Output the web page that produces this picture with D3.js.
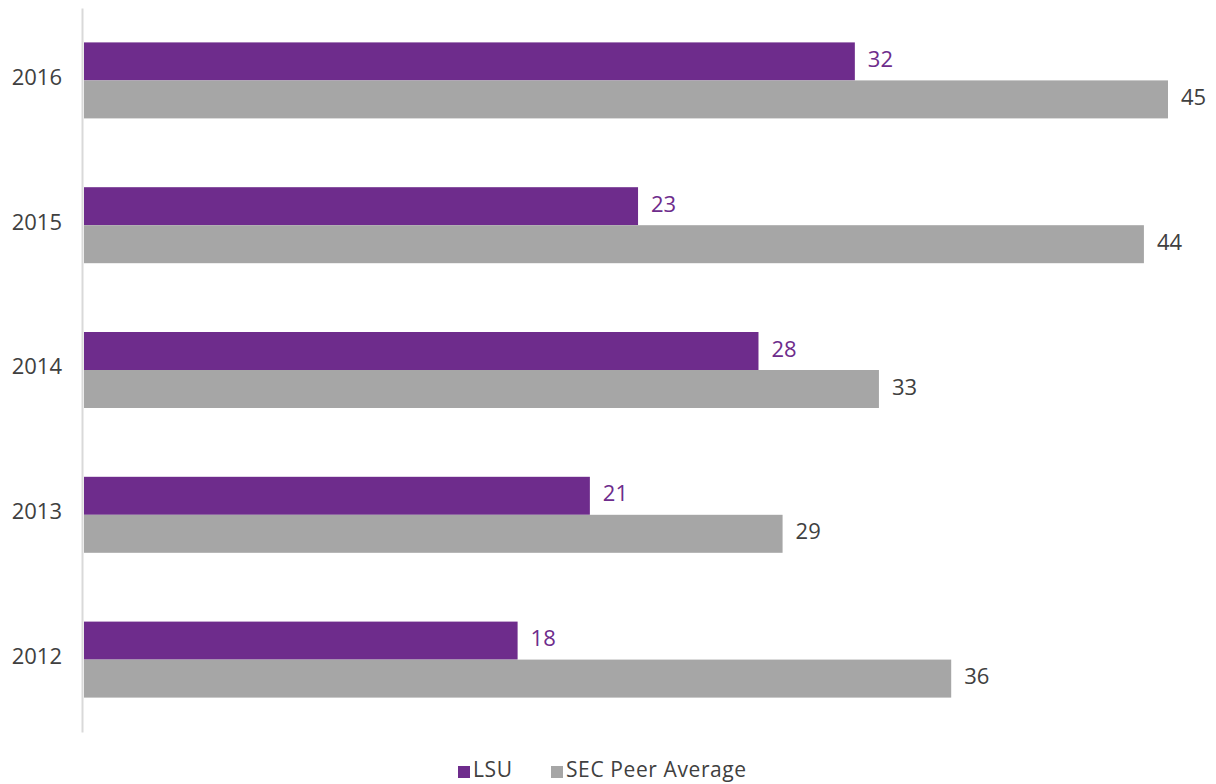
<!DOCTYPE html>
<html>
<head>
<meta charset="utf-8">
<script src="https://cdn.jsdelivr.net/npm/d3@7"></script>
<style>
  body { margin: 0; background: #fff; }
  svg { display: block; }
</style>
</head>
<body>
<div id="chart"></div>
<script>
// data, top of chart first
const years = ["2016", "2015", "2014", "2013", "2012"]
const lsu = [32, 23, 28, 21, 18]
const secPeer = [45, 44, 33, 29, 36]
const seriesNames = ["LSU", "SEC Peer Average"]
const seriesColors = ["#6e2c8c", "#a6a6a6"]

const width = 1216, height = 784
const margin = ({ top: 8, right: 48, bottom: 52, left: 84 })
const fontFamily = "'Open Sans', Lato, sans-serif"

const svg = d3.create("svg")
  .attr("width", width)
  .attr("height", height)
  .style("font-family", fontFamily)

const x = d3.scaleLinear()
  .domain([0, 45])
  .range([margin.left, 1168])

const y = d3.scaleBand()
  .domain(years)
  .range([margin.top, height - margin.bottom])

const inner = d3.scaleBand()
  .domain([0, 1])
  .range([0, 76])

const rows = years.map((yr, i) => ({ year: yr, values: [lsu[i], secPeer[i]] }))

// bars
const grp = svg.append("g")
  .selectAll("g")
  .data(rows)
  .join("g")
  .attr("transform", d => `translate(0,${y(d.year) + y.bandwidth() / 2 - 38})`)

grp.selectAll("rect")
  .data(d => d.values.map((v, k) => ({ v, k })))
  .join("rect")
  .attr("x", x(0))
  .attr("y", d => inner(d.k))
  .attr("width", d => x(d.v) - x(0))
  .attr("height", inner.bandwidth())
  .attr("fill", d => seriesColors[d.k])

grp.selectAll("text")
  .data(d => d.values.map((v, k) => ({ v, k })))
  .join("text")
  .attr("x", d => x(d.v) + 13)
  .attr("y", d => inner(d.k) + inner.bandwidth() / 2 - 2)
  .attr("dy", "0.35em")
  .attr("fill", d => d.k === 0 ? "#6e2c8c" : "#404040")
  .style("font-size", "22px")
  .text(d => d.v)

// y axis
const yAxis = svg.append("g")
  .attr("transform", `translate(${margin.left - 2},0)`)
  .call(d3.axisLeft(y).tickSize(0).tickPadding(20))
yAxis.select(".domain").attr("stroke", "#d9d9d9").attr("stroke-width", 2)
yAxis.selectAll(".tick text")
  .attr("fill", "#404040")
  .attr("dy", "0.2em")
  .style("font-size", "22px")
  .style("font-family", fontFamily)

// legend
const legendPos = [458, 551]
const legend = svg.append("g")
  .selectAll("g")
  .data(seriesNames)
  .join("g")
  .attr("transform", (d, i) => `translate(${legendPos[i]},768)`)
legend.append("rect")
  .attr("x", 0).attr("y", -2)
  .attr("width", 12).attr("height", 12)
  .attr("fill", (d, i) => seriesColors[i])
legend.append("text")
  .attr("x", 15)
  .attr("y", 9)
  .attr("fill", "#404040")
  .style("font-size", "21px")
  .style("letter-spacing", "0.6px")
  .text(d => d)

document.getElementById("chart").appendChild(svg.node())
</script>
</body>
</html>
